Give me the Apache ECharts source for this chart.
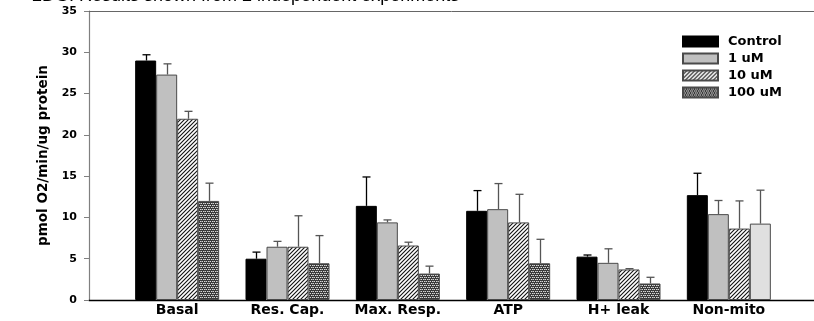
<!DOCTYPE html>
<html>
<head>
<meta charset="utf-8">
<script src="https://cdn.jsdelivr.net/npm/echarts@6/dist/echarts.min.js"></script>
<style>
  html, body { margin: 0; padding: 0; background: #fff; }
  #chart { width: 814px; height: 321px; }
</style>
</head>
<body>
<div id="chart"></div>
<script>
// Categories and treatment groups
const categories = ['Basal', 'Res. Cap.', 'Max. Resp.', 'ATP', 'H+ leak', 'Non-mito'];
const groups = ['Control', '1 uM', '10 uM', '100 uM'];

// Mean OCR per group (pmol O2/min/ug protein)
const controlMean = [29.0, 5.0, 11.4, 10.8, 5.25, 12.7];
const uM1Mean     = [27.3, 6.45, 9.4, 11.0, 4.5, 10.4];
const uM10Mean    = [21.95, 6.45, 6.6, 9.4, 3.7, 8.65];
const uM100Mean   = [12.0, 4.45, 3.2, 4.45, 2.0, 9.25];

// Upper error (SD) per group
const controlErr = [0.7, 0.8, 3.5, 2.45, 0.2, 2.65];
const uM1Err     = [1.3, 0.65, 0.3, 3.1, 1.7, 1.65];
const uM10Err    = [0.9, 3.75, 0.4, 3.4, 0.1, 3.35];
const uM100Err   = [2.15, 3.35, 0.9, 2.9, 0.75, 4.05];

const yTicks = [0, 5, 10, 15, 20, 25, 30, 35];

const means = [controlMean, uM1Mean, uM10Mean, uM100Mean];
const errs = [controlErr, uM1Err, uM10Err, uM100Err];

// Fill patterns
function hatchPattern() {
  const c = document.createElement('canvas');
  c.width = 4; c.height = 4;
  const g = c.getContext('2d');
  g.fillStyle = '#fff'; g.fillRect(0, 0, 4, 4);
  g.strokeStyle = '#111'; g.lineWidth = 1.1;
  g.beginPath();
  g.moveTo(-1, 5); g.lineTo(5, -1);
  g.moveTo(-1, 1); g.lineTo(1, -1);
  g.moveTo(3, 5); g.lineTo(5, 3);
  g.stroke();
  return c;
}
function checkPattern() {
  const c = document.createElement('canvas');
  c.width = 4; c.height = 4;
  const g = c.getContext('2d');
  g.fillStyle = '#3a3a3a'; g.fillRect(0, 0, 4, 4);
  g.fillStyle = '#d8d8d8';
  g.fillRect(0, 1, 1, 1); g.fillRect(2, 1, 1, 1);
  g.fillRect(1, 3, 1, 1); g.fillRect(3, 3, 1, 1);
  g.fillStyle = '#8a8a8a';
  g.fillRect(1, 1, 1, 1); g.fillRect(0, 3, 1, 1);
  return c;
}

const fills = [
  '#000000',
  '#c0c0c0',
  { image: hatchPattern(), repeat: 'repeat' },
  { image: checkPattern(), repeat: 'repeat' }
];
const borders = ['#000', '#4a4a4a', '#4a4a4a', '#4a4a4a'];
const errColors = ['#000', '#555', '#555', '#555'];

const BAR_W = 21;
const FONT = 'DejaVu Sans, Liberation Sans, Arial, sans-serif';
const TITLE_FONT = 'Liberation Sans, Arial, Helvetica, sans-serif';

const barSeries = groups.map((name, gi) => ({
  name: name,
  type: 'bar',
  xAxisIndex: 0, yAxisIndex: 0,
  barWidth: BAR_W,
  barGap: '0%',
  itemStyle: { color: fills[gi], borderColor: borders[gi], borderWidth: 1 },
  data: means[gi].map((v, ci) => {
    // last Non-mito bar drawn in plain light grey
    if (gi === 3 && ci === categories.length - 1) {
      return { value: v, itemStyle: { color: '#e0e0e0', borderColor: '#4a4a4a' } };
    }
    return v;
  }),
  z: 2
}));

const errSeries = groups.map((name, gi) => ({
  type: 'custom',
  xAxisIndex: 0, yAxisIndex: 0,
  data: means[gi].map((v, ci) => [ci, v, v + errs[gi][ci]]),
  renderItem: function (params, api) {
    const base = api.coord([api.value(0), api.value(1)]);
    const top = api.coord([api.value(0), api.value(2)]);
    const x = Math.round(base[0] + (gi - 1.5) * BAR_W) + 0.5;
    const cap = 4;
    return {
      type: 'group',
      children: [
        { type: 'line', shape: { x1: x, y1: base[1], x2: x, y2: top[1] },
          style: { stroke: errColors[gi], lineWidth: 1.3 } },
        { type: 'line', shape: { x1: x - cap, y1: top[1], x2: x + cap, y2: top[1] },
          style: { stroke: errColors[gi], lineWidth: 1.3 } }
      ]
    };
  },
  z: 3,
  silent: true
}));

const chart = echarts.init(document.getElementById('chart'), null, { renderer: 'canvas' });
chart.setOption({
  animation: false,
  backgroundColor: '#fff',
  // heading sits partly above the top edge of the page
  graphic: [{
    type: 'text',
    x: 32, y: 5,
    style: {
      text: '2DG: Results shown from 2 independent experiments',
      font: 'normal 18px ' + TITLE_FONT,
      fill: '#000',
      verticalAlign: 'bottom'
    },
    silent: true
  }],
  legend: {
    orient: 'vertical',
    left: 677, top: 30,
    itemWidth: 35, itemHeight: 10, itemGap: 4,
    icon: 'rect',
    data: groups,
    textStyle: { fontFamily: FONT, fontSize: 13, fontWeight: 'bold', color: '#000', padding: [0, 0, 0, 5] }
  },
  grid: [
    { left: 122, right: 30, top: 11, bottom: 21 },
    { left: 89, right: 0, top: 11, bottom: 21 }
  ],
  xAxis: [
    {
      type: 'category', gridIndex: 0, data: categories,
      axisLine: { show: false }, axisTick: { show: false },
      axisLabel: { interval: 0, fontFamily: FONT, fontSize: 14, fontWeight: 'bold', color: '#000', margin: 3 }
    },
    {
      type: 'value', gridIndex: 1, min: 0, max: 1, position: 'bottom',
      axisLine: { show: true, lineStyle: { color: '#000', width: 1.3 } },
      axisTick: { show: false }, axisLabel: { show: false }, splitLine: { show: false }
    },
    {
      type: 'value', gridIndex: 1, min: 0, max: 1, position: 'top',
      axisLine: { show: true, lineStyle: { color: '#666', width: 1 } },
      axisTick: { show: false }, axisLabel: { show: false }, splitLine: { show: false }
    }
  ],
  yAxis: [
    {
      type: 'value', gridIndex: 0, min: yTicks[0], max: yTicks[yTicks.length - 1], interval: 5,
      offset: 33,
      name: 'pmol O2/min/ug protein', nameLocation: 'middle', nameGap: 39,
      nameTextStyle: { fontFamily: FONT, fontSize: 13.5, fontWeight: 'bold', color: '#000' },
      axisLine: { show: true, lineStyle: { color: '#808080', width: 1.2 } },
      axisTick: { show: true, length: 5, lineStyle: { color: '#808080' } },
      axisLabel: { fontFamily: FONT, fontSize: 11, fontWeight: 'bold', color: '#000', margin: 12 },
      splitLine: { show: false }
    },
    {
      type: 'value', gridIndex: 1, min: 0, max: 1, show: false
    }
  ],
  series: barSeries.concat(errSeries)
});
</script>
</body>
</html>
